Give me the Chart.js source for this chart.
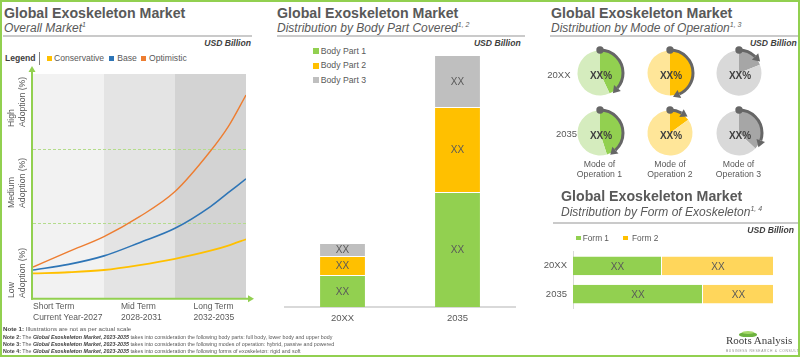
<!DOCTYPE html>
<html><head><meta charset="utf-8">
<script src="https://cdn.jsdelivr.net/npm/chart.js@4.4.1/dist/chart.umd.min.js"></script>
<style>
html,body{margin:0;padding:0;background:#fff;}
#root{position:relative;width:800px;height:357px;overflow:hidden;font-family:'Liberation Sans',Arial,sans-serif;color:#595959;background:#fff;}
#frame{position:absolute;left:0;top:0;width:800px;height:357px;box-sizing:border-box;border:2.5px solid #92D050;pointer-events:none;z-index:10;}
.t{position:absolute;white-space:nowrap;line-height:1;}
.title{font-size:14.2px;font-weight:bold;color:#595959;}
.sub{font-size:12px;font-style:italic;color:#595959;}
.sp{font-size:7px;position:relative;top:-5px;}
.usd{font-size:8.6px;font-weight:bold;font-style:italic;color:#404040;text-align:right;}
.rule{position:absolute;height:1.5px;background:#CACACA;}
.lg{font-size:8.6px;color:#595959;}
.sq{position:absolute;}
canvas{position:absolute;}
.two{position:absolute;white-space:nowrap;font-size:8.5px;line-height:10.5px;color:#595959;}
.rot{position:absolute;white-space:nowrap;font-size:8.7px;line-height:10.5px;color:#595959;transform:rotate(-90deg);transform-origin:0 0;}
.note{position:absolute;left:3px;white-space:nowrap;font-size:5.3px;line-height:1;color:#595959;}
.note b{color:#404040;}
.cap{position:absolute;width:70px;text-align:center;font-size:8.7px;line-height:10.5px;color:#595959;}
</style></head>
<body><div id="root">
<div id="frame"></div>

<!-- Panel 1 -->
<div class="t title" style="left:4px;top:6.3px">Global Exoskeleton Market</div>
<div class="t sub" style="left:4px;top:21.5px">Overall Market<span class="sp">1</span></div>
<div class="rule" style="left:3px;width:249px;top:35px"></div>
<div class="t usd" style="right:549px;top:39.2px">USD Billion</div>
<div class="t lg" style="left:5px;top:53.7px;font-weight:bold;color:#404040">Legend</div>
<div style="position:absolute;left:39px;top:52px;width:1px;height:13px;background:#7F7F7F"></div>
<div class="sq" style="left:46.7px;top:56px;width:5px;height:5px;background:#FFC000"></div>
<div class="t lg" style="left:54px;top:53.7px">Conservative</div>
<div class="sq" style="left:108.7px;top:56px;width:5px;height:5px;background:#2E75B6"></div>
<div class="t lg" style="left:117.3px;top:53.7px">Base</div>
<div class="sq" style="left:140.7px;top:56px;width:5px;height:5px;background:#ED7D31"></div>
<div class="t lg" style="left:149px;top:53.7px">Optimistic</div>
<canvas id="lineChart" width="260" height="250" style="left:0;top:60px"></canvas>
<div class="rot" style="left:5.8px;top:127px">High<br>Adoption (%)</div>
<div class="rot" style="left:5.8px;top:208px">Medium<br>Adoption (%)</div>
<div class="rot" style="left:5.8px;top:298px">Low<br>Adoption (%)</div>
<div class="two" style="left:33px;top:301.3px">Short Term<br>Current Year-2027</div>
<div class="two" style="left:121px;top:301.3px">Mid Term<br>2028-2031</div>
<div class="two" style="left:193.5px;top:301.3px">Long Term<br>2032-2035</div>

<!-- Panel 2 -->
<div class="t title" style="left:277px;top:6.3px">Global Exoskeleton Market</div>
<div class="t sub" style="left:277px;top:21.5px">Distribution by Body Part Covered<span class="sp">1, 2</span></div>
<div class="rule" style="left:277px;width:248px;top:35px"></div>
<div class="t usd" style="right:279.3px;top:39.2px">USD Billion</div>
<div class="sq" style="left:313px;top:48.2px;width:6px;height:6px;background:#92D050"></div>
<div class="t lg" style="left:320.7px;top:46.8px;font-size:8.7px">Body Part 1</div>
<div class="sq" style="left:313px;top:62.6px;width:6px;height:6px;background:#FFC000"></div>
<div class="t lg" style="left:320.7px;top:61.2px;font-size:8.7px">Body Part 2</div>
<div class="sq" style="left:313px;top:77px;width:6px;height:6px;background:#BFBFBF"></div>
<div class="t lg" style="left:320.7px;top:75.6px;font-size:8.7px">Body Part 3</div>
<canvas id="bodyChart" width="265" height="290" style="left:272px;top:40px"></canvas>

<!-- Panel 3 -->
<div class="t title" style="left:551px;top:6.3px">Global Exoskeleton Market</div>
<div class="t sub" style="left:551px;top:21.5px">Distribution by Mode of Operation<span class="sp">1, 3</span></div>
<div class="rule" style="left:550px;width:248px;top:35px"></div>
<div class="t usd" style="right:3.3px;top:39.2px">USD Billion</div>
<div id="pies"></div>
<div class="t" style="left:547.3px;top:70.3px;font-size:9.5px">20XX</div>
<div class="t" style="left:556px;top:129.3px;font-size:9.5px">2035</div>
<div class="cap" style="left:564.5px;top:158.7px">Mode of<br>Operation 1</div>
<div class="cap" style="left:635px;top:158.7px">Mode of<br>Operation 2</div>
<div class="cap" style="left:703.5px;top:158.7px">Mode of<br>Operation 3</div>

<!-- Panel 4 -->
<div class="t title" style="left:561px;top:189px">Global Exoskeleton Market</div>
<div class="t sub" style="left:561px;top:205.8px">Distribution by Form of Exoskeleton<span class="sp">1, 4</span></div>
<div class="rule" style="left:553px;width:245px;top:222px"></div>
<div class="t usd" style="right:6px;top:226px">USD Billion</div>
<div class="sq" style="left:576px;top:235.7px;width:4.5px;height:4.5px;background:#92D050"></div>
<div class="t lg" style="left:582.7px;top:233.5px;font-size:8.3px">Form 1</div>
<div class="sq" style="left:623.3px;top:235.7px;width:4.5px;height:4.5px;background:#FFC000"></div>
<div class="t lg" style="left:632px;top:233.5px;font-size:8.3px">Form 2</div>
<canvas id="formChart" width="250" height="80" style="left:540px;top:240px"></canvas>

<!-- Notes -->
<div class="note" style="top:326.4px;font-size:6.2px"><b>Note 1:</b> Illustrations are not as per actual scale</div>
<div class="note" style="top:334.5px"><b>Note 2:</b> The <b><i>Global Exoskeleton Market, 2023-2035</i></b> takes into consideration the following body parts: full body, lower body and upper body</div>
<div class="note" style="top:341.7px"><b>Note 3:</b> The <b><i>Global Exoskeleton Market, 2023-2035</i></b> takes into consideration the following modes of operation: hybrid, passive and powered</div>
<div class="note" style="top:348.9px"><b>Note 4:</b> The <b><i>Global Exoskeleton Market, 2023-2035</i></b> takes into consideration the following forms of exoskeleton: rigid and soft</div>

<!-- Logo -->
<div style="position:absolute;left:739px;top:331.5px;width:18px;height:5px;border-radius:50% 50% 40% 40%;background:#6DB33F"></div>
<div style="position:absolute;left:742px;top:330.5px;width:12px;height:3px;border-radius:50%;background:#A6D96A"></div>
<div class="t" style="left:726px;top:335.3px;font-family:'Liberation Serif',serif;font-size:11px;color:#404040">Roots Analysis</div>
<div class="t" style="left:726px;top:348.5px;font-size:6px;color:#8C8C8C;letter-spacing:1.2px;transform:scale(0.55);transform-origin:0 0">BUSINESS RESEARCH &amp; CONSULTING</div>
</div>

<script>
// ---------- Data ----------
// Overall market (adoption %, 0-100) across the forecast periods (0 = start, 3 = 2035)
const periods = [0, 0.5, 1, 1.5, 2, 2.5, 2.75, 3];
const conservative = [11.0, 11.5, 12.5, 14.7, 17.5, 21.1, 23.4, 26.2];
const base = [12.5, 15.0, 18.8, 24.7, 31.1, 40.8, 47.0, 53.2];
const optimistic = [13.8, 20.7, 27.4, 36.3, 47.5, 65.6, 76.5, 90.6];
const bandEdges = [0, 1, 2, 3];
const adoptionLevels = [33.3, 66.7];

// Distribution by body part covered (USD Billion, illustrative)
const bodyYears = ['20XX', '2035'];
const bodyPart1 = [3.2, 11.5];
const bodyPart2 = [1.9, 8.5];
const bodyPart3 = [1.3, 5.2];

// Distribution by mode of operation (share %, highlighted slice)
const modeYears = ['20XX', '2035'];
const modeOperation1 = [43, 45];
const modeOperation2 = [50, 15];
const modeOperation3 = [19, 37];

// Distribution by form of exoskeleton
const formYears = ['20XX', '2035'];
const form1 = [89, 130];
const form2 = [112, 71];

const valueLabel = 'XX';
const shareLabel = 'XX%';

// ---------- Setup ----------
Chart.defaults.font.family = "'Liberation Sans', Arial, sans-serif";
Chart.defaults.color = '#595959';
Chart.defaults.animation = false;
Chart.defaults.responsive = false;
Chart.defaults.devicePixelRatio = 1;
Chart.defaults.plugins.legend.display = false;
Chart.defaults.plugins.tooltip.enabled = false;

const bandColors = ['#F2F2F2', '#E4E4E4', '#D3D3D3'];

const overallPlugin = {
  id: 'overall',
  beforeDatasetsDraw(chart) {
    const {ctx, chartArea: a, scales: {x, y}} = chart;
    ctx.save();
    for (let i = 0; i < bandEdges.length - 1; i++) {
      const x0 = x.getPixelForValue(bandEdges[i]), x1 = x.getPixelForValue(bandEdges[i + 1]);
      ctx.fillStyle = bandColors[i];
      ctx.fillRect(x0, a.top, x1 - x0, a.bottom - a.top);
    }
    ctx.strokeStyle = '#B4DC8C'; ctx.lineWidth = 1; ctx.setLineDash([3, 2]);
    adoptionLevels.forEach(v => {
      const py = Math.round(y.getPixelForValue(v)) + 0.5;
      ctx.beginPath(); ctx.moveTo(a.left, py); ctx.lineTo(a.right, py); ctx.stroke();
    });
    ctx.restore();
  },
  afterDatasetsDraw(chart) {
    const {ctx, chartArea: a} = chart;
    ctx.save();
    ctx.strokeStyle = ctx.fillStyle = '#92D050'; ctx.lineWidth = 2;
    const ox = a.left - 1, oy = a.bottom + 0.7;
    ctx.beginPath(); ctx.moveTo(ox, oy + 1); ctx.lineTo(ox, a.top - 4); ctx.stroke();
    ctx.beginPath(); ctx.moveTo(ox, a.top - 8); ctx.lineTo(ox - 3.5, a.top - 2); ctx.lineTo(ox + 3.5, a.top - 2); ctx.closePath(); ctx.fill();
    ctx.beginPath(); ctx.moveTo(ox - 1, oy); ctx.lineTo(a.right + 4, oy); ctx.stroke();
    ctx.beginPath(); ctx.moveTo(a.right + 8, oy); ctx.lineTo(a.right + 2, oy - 3.5); ctx.lineTo(a.right + 2, oy + 3.5); ctx.closePath(); ctx.fill();
    ctx.restore();
  }
};

const pts = arr => periods.map((p, i) => ({x: p, y: arr[i]}));
new Chart(document.getElementById('lineChart'), {
  type: 'line',
  data: {
    datasets: [
      {label: 'Conservative', data: pts(conservative), borderColor: '#FFC000', borderWidth: 1.8, pointRadius: 0, cubicInterpolationMode: 'monotone'},
      {label: 'Base', data: pts(base), borderColor: '#2E75B6', borderWidth: 1.6, pointRadius: 0, cubicInterpolationMode: 'monotone'},
      {label: 'Optimistic', data: pts(optimistic), borderColor: '#ED7D31', borderWidth: 1.4, pointRadius: 0, cubicInterpolationMode: 'monotone'}
    ]
  },
  options: {
    layout: {padding: {left: 33, top: 14, right: 14, bottom: 12}},
    scales: {
      x: {type: 'linear', min: 0, max: 3, display: false},
      y: {min: 0, max: 100, display: false}
    }
  },
  plugins: [overallPlugin]
});

const labelPlugin = {
  id: 'xxLabels',
  afterDatasetsDraw(chart, args, opts) {
    const {ctx} = chart;
    ctx.save();
    ctx.font = opts.font; ctx.fillStyle = opts.color;
    ctx.textAlign = 'center'; ctx.textBaseline = 'middle';
    chart.data.datasets.forEach((ds, i) => {
      chart.getDatasetMeta(i).data.forEach(el => {
        const c = el.getCenterPoint();
        ctx.fillText(opts.text, c.x, c.y + 1);
      });
    });
    ctx.restore();
  }
};

new Chart(document.getElementById('bodyChart'), {
  type: 'bar',
  data: {
    labels: bodyYears,
    datasets: [
      {label: 'Body Part 1', data: bodyPart1, backgroundColor: '#92D050'},
      {label: 'Body Part 2', data: bodyPart2, backgroundColor: '#FFC000'},
      {label: 'Body Part 3', data: bodyPart3, backgroundColor: '#BFBFBF'}
    ]
  },
  options: {
    layout: {padding: {left: 13, right: 22, top: 5, bottom: 0}},
    datasets: {bar: {categoryPercentage: 1, barPercentage: 0.39, borderColor: '#FFFFFF', borderWidth: {top: 1}, borderSkipped: 'start'}},
    scales: {
      x: {stacked: true, grid: {display: false, drawTicks: false}, border: {display: true, color: '#D9D9D9', width: 2},
          ticks: {font: {size: 9.5}, color: '#595959', padding: 5.5},
          afterFit: s => { s.height = 23; }},
      y: {stacked: true, min: 0, max: 26.2, display: false}
    },
    plugins: {xxLabels: {text: valueLabel, font: "10px 'Liberation Sans', Arial, sans-serif", color: '#595959'}}
  },
  plugins: [labelPlugin]
});

new Chart(document.getElementById('formChart'), {
  type: 'bar',
  data: {
    labels: formYears,
    datasets: [
      {label: 'Form 1', data: form1, backgroundColor: '#92D050'},
      {label: 'Form 2', data: form2, backgroundColor: '#FFD65B'}
    ]
  },
  options: {
    indexAxis: 'y',
    layout: {padding: {left: 0, right: 16, top: 6.5, bottom: 7.5}},
    datasets: {bar: {categoryPercentage: 1, barPercentage: 0.667, borderColor: '#FFFFFF', borderWidth: {right: 1}, borderSkipped: 'start'}},
    scales: {
      x: {stacked: true, min: 0, max: 201, display: false},
      y: {stacked: true, grid: {display: false, drawTicks: false}, border: {display: true, color: '#D9D9D9', width: 1},
          ticks: {font: {size: 9.5}, color: '#595959', padding: 6},
          afterFit: s => { s.width = 33; }}
    },
    plugins: {xxLabels: {text: valueLabel, font: "10px 'Liberation Sans', Arial, sans-serif", color: '#595959'}}
  },
  plugins: [labelPlugin]
});

// ---------- Pies ----------
const arrowPlugin = {
  id: 'arrow',
  afterDatasetsDraw(chart, args, opts) {
    const el = chart.getDatasetMeta(0).data[0];
    const {x, y, startAngle, endAngle, outerRadius: r} = el.getProps(['x', 'y', 'startAngle', 'endAngle', 'outerRadius']);
    const ctx = chart.ctx;
    ctx.save();
    ctx.strokeStyle = ctx.fillStyle = '#666666';
    ctx.lineWidth = 3;
    const rr = r + 0.5;
    const arcEnd = endAngle - 0.42;
    ctx.beginPath(); ctx.arc(x, y, rr, startAngle, arcEnd); ctx.stroke();
    ctx.beginPath(); ctx.arc(x + rr * Math.cos(startAngle), y + rr * Math.sin(startAngle), 3.7, 0, Math.PI * 2); ctx.fill();
    const hx = x + rr * Math.cos(arcEnd), hy = y + rr * Math.sin(arcEnd);
    const tx = -Math.sin(arcEnd), ty = Math.cos(arcEnd);
    const nx = Math.cos(arcEnd), ny = Math.sin(arcEnd);
    const L = 7, W = 4.5;
    ctx.beginPath();
    ctx.moveTo(hx + tx * L, hy + ty * L);
    ctx.lineTo(hx + nx * W, hy + ny * W);
    ctx.lineTo(hx - nx * W, hy - ny * W);
    ctx.closePath(); ctx.fill();
    ctx.font = "bold 10px 'Liberation Sans', Arial, sans-serif";
    ctx.fillStyle = '#404040'; ctx.textAlign = 'center'; ctx.textBaseline = 'middle';
    ctx.fillText(opts.text, x + 1, y + 3);
    ctx.restore();
  }
};

const modeSeries = [modeOperation1, modeOperation2, modeOperation3];
const modeDark = ['#92D050', '#FFC000', '#A6A6A6'];
const modeLight = ['#D5ECBE', '#FFE699', '#D9D9D9'];
const pieCx = [599.5, 670, 738.5];
const pieCy = [73.3, 132.8];
const piesHost = document.getElementById('pies');
modeYears.forEach((yr, ri) => {
  modeSeries.forEach((series, ci) => {
    const cv = document.createElement('canvas');
    cv.width = 64; cv.height = 64;
    cv.style.left = (pieCx[ci] - 32) + 'px';
    cv.style.top = (pieCy[ri] - 32) + 'px';
    piesHost.appendChild(cv);
    new Chart(cv, {
      type: 'pie',
      data: {
        labels: ['Mode of Operation ' + (ci + 1), 'Other'],
        datasets: [{data: [series[ri], 100 - series[ri]], backgroundColor: [modeDark[ci], modeLight[ci]], borderWidth: 0, hoverOffset: 0}]
      },
      options: {
        layout: {padding: 9.5},
        plugins: {arrow: {text: shareLabel}}
      },
      plugins: [arrowPlugin]
    });
  });
});
</script>
</body></html>
